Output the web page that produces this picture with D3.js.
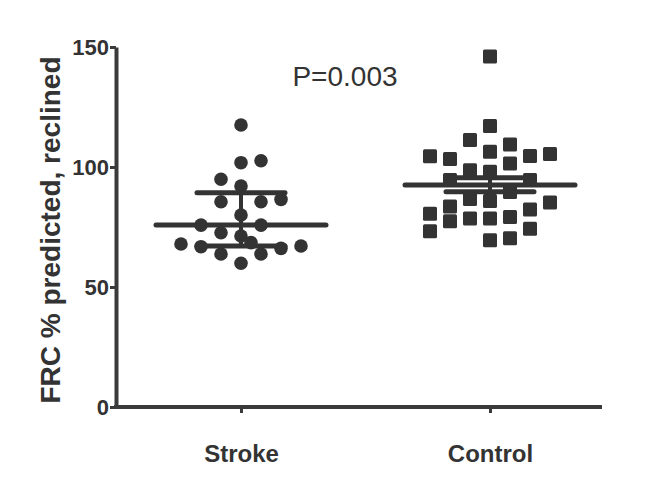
<!DOCTYPE html>
<html>
<head>
<meta charset="utf-8">
<script src="https://cdn.jsdelivr.net/npm/d3@7"></script>
<style>
  html, body { margin: 0; padding: 0; background: #ffffff; }
  svg { display: block; }
  text { font-family: "Liberation Sans", Arial, Helvetica, sans-serif; }
</style>
</head>
<body>
<div id="chart"></div>
<script>
// ---------------- data ----------------
const categories = ["Stroke", "Control"];
// FRC % predicted (reclined), individual subjects (order = order of placement in the dot plot)
const strokeValues = [117.5, 101.8, 92.1, 80, 71.25, 59.9, 102.6, 94.9, 85.5, 85.5, 86.5,
                      72.6, 75.8, 75.8, 63.75, 63.75, 66.1, 66.8, 67.1, 67.9, 68.5];
const controlValues = [146, 117.1, 106.4, 98.0, 85.8, 78.5, 69.5, 109.4, 111.25, 101.5, 98.6,
                       104.6, 103.3, 105.4, 104.5, 89.6, 94.6, 94.6, 86.7, 79.2, 78.5, 82.3,
                       83.5, 85.2, 80.5, 77.4, 74.3, 73.2, 70.3];
// summary bars (centre line and error-bar ends) per group
const centerValues = [75.8, 92.5];
const upperValues = [89.3, 95.5];
const lowerValues = [67.1, 89.7];
const yTickValues = [0, 50, 100, 150];
const yLabelText = "FRC % predicted, reclined";
const pValueText = "P=0.003";

// ---------------- layout ----------------
const W = 669, H = 494;
const ink = "#333333";
const axisInk = "#3a3a3a";

const svg = d3.select("#chart").append("svg")
  .attr("width", W).attr("height", H);

const y = d3.scaleLinear().domain([0, 150]).range([407, 47]);
const x = d3.scalePoint().domain(categories).range([116.5, 614.5]).padding(0.5);

// y axis
const yAxis = svg.append("g")
  .attr("transform", "translate(116,0)")
  .call(d3.axisLeft(y).tickValues(yTickValues).tickSize(6).tickSizeOuter(0).tickPadding(1));
yAxis.select(".domain").attr("stroke", axisInk).attr("stroke-width", 4);
yAxis.selectAll(".tick line").attr("stroke", axisInk).attr("stroke-width", 3);
yAxis.selectAll(".tick text")
  .attr("fill", ink)
  .style("font-size", "22px")
  .style("font-weight", "bold")
  .style("font-family", "'Liberation Sans', Arial, sans-serif");

// x axis
const xAxis = svg.append("g")
  .attr("transform", "translate(0,407)")
  .call(d3.axisBottom(x).tickSize(6).tickSizeOuter(0));
xAxis.select(".domain").remove();
xAxis.append("line")
  .attr("x1", 114).attr("x2", 602).attr("y1", 0).attr("y2", 0)
  .attr("stroke", axisInk).attr("stroke-width", 4).attr("stroke-linecap", "butt");
xAxis.selectAll(".tick line").attr("stroke", axisInk).attr("stroke-width", 3);
xAxis.selectAll(".tick text")
  .attr("fill", ink)
  .attr("y", 55).attr("dy", 0)
  .style("font-size", "24px")
  .style("font-weight", "bold")
  .style("font-family", "'Liberation Sans', Arial, sans-serif");

// y label
svg.append("text")
  .attr("transform", "translate(60,230) rotate(-90)")
  .attr("text-anchor", "middle")
  .attr("fill", ink)
  .style("font-size", "28px")
  .style("font-weight", "bold")
  .text(yLabelText);

// p value
svg.append("text")
  .attr("x", 345).attr("y", 86)
  .attr("text-anchor", "middle")
  .attr("fill", ink)
  .style("font-size", "28px")
  .text(pValueText);

// ---------------- dot plot layout (column dodge) ----------------
function dodge(values, cx) {
  const placed = [];
  let pref = 1;
  const step = 20;
  const mags = [1, 2, 3, 0.5, 1.5, 2.5, 3.5, 4, 5, 6];
  function free(px, py) {
    return placed.every(p => {
      const dx = Math.abs(p.x - px), dy = Math.abs(p.y - py);
      if (dx < 0.5) return dy >= 14.5;
      if (dx < 20) return Math.hypot(dx, dy) >= 11.5;
      return true;
    });
  }
  values.forEach(v => {
    const py = y(v);
    if (free(cx, py)) { placed.push({ x: cx, y: py, v }); return; }
    for (const m of mags) {
      let done = false;
      for (const s of [pref, -pref]) {
        const px = cx + s * m * step;
        if (free(px, py)) {
          placed.push({ x: px, y: py, v });
          pref = -s;
          done = true;
          break;
        }
      }
      if (done) return;
    }
    placed.push({ x: cx, y: py, v });
  });
  return placed;
}

const strokePts = dodge(strokeValues, x("Stroke"));
const controlPts = dodge(controlValues, x("Control"));

svg.append("g").selectAll("circle")
  .data(strokePts).join("circle")
  .attr("cx", d => d.x).attr("cy", d => d.y)
  .attr("r", 6.8)
  .attr("fill", ink);

const sq = 14;
svg.append("g").selectAll("rect")
  .data(controlPts).join("rect")
  .attr("x", d => d.x - sq / 2).attr("y", d => d.y - sq / 2)
  .attr("width", sq).attr("height", sq)
  .attr("rx", 1.5)
  .attr("fill", ink);

// ---------------- summary bars ----------------
const summary = categories.map((c, i) => ({
  c, center: centerValues[i], upper: upperValues[i], lower: lowerValues[i]
}));
const bars = svg.append("g")
  .attr("stroke", ink).attr("stroke-linecap", "round");
summary.forEach(s => {
  const cx = x(s.c);
  bars.append("line")
    .attr("x1", cx).attr("x2", cx)
    .attr("y1", y(s.upper)).attr("y2", y(s.lower))
    .attr("stroke-width", 4);
  bars.append("line")
    .attr("x1", cx - 44).attr("x2", cx + 44)
    .attr("y1", y(s.upper)).attr("y2", y(s.upper))
    .attr("stroke-width", 5);
  bars.append("line")
    .attr("x1", cx - 44).attr("x2", cx + 44)
    .attr("y1", y(s.lower)).attr("y2", y(s.lower))
    .attr("stroke-width", 5);
  bars.append("line")
    .attr("x1", cx - 85).attr("x2", cx + 85)
    .attr("y1", y(s.center)).attr("y2", y(s.center))
    .attr("stroke-width", 5);
});
</script>
</body>
</html>
